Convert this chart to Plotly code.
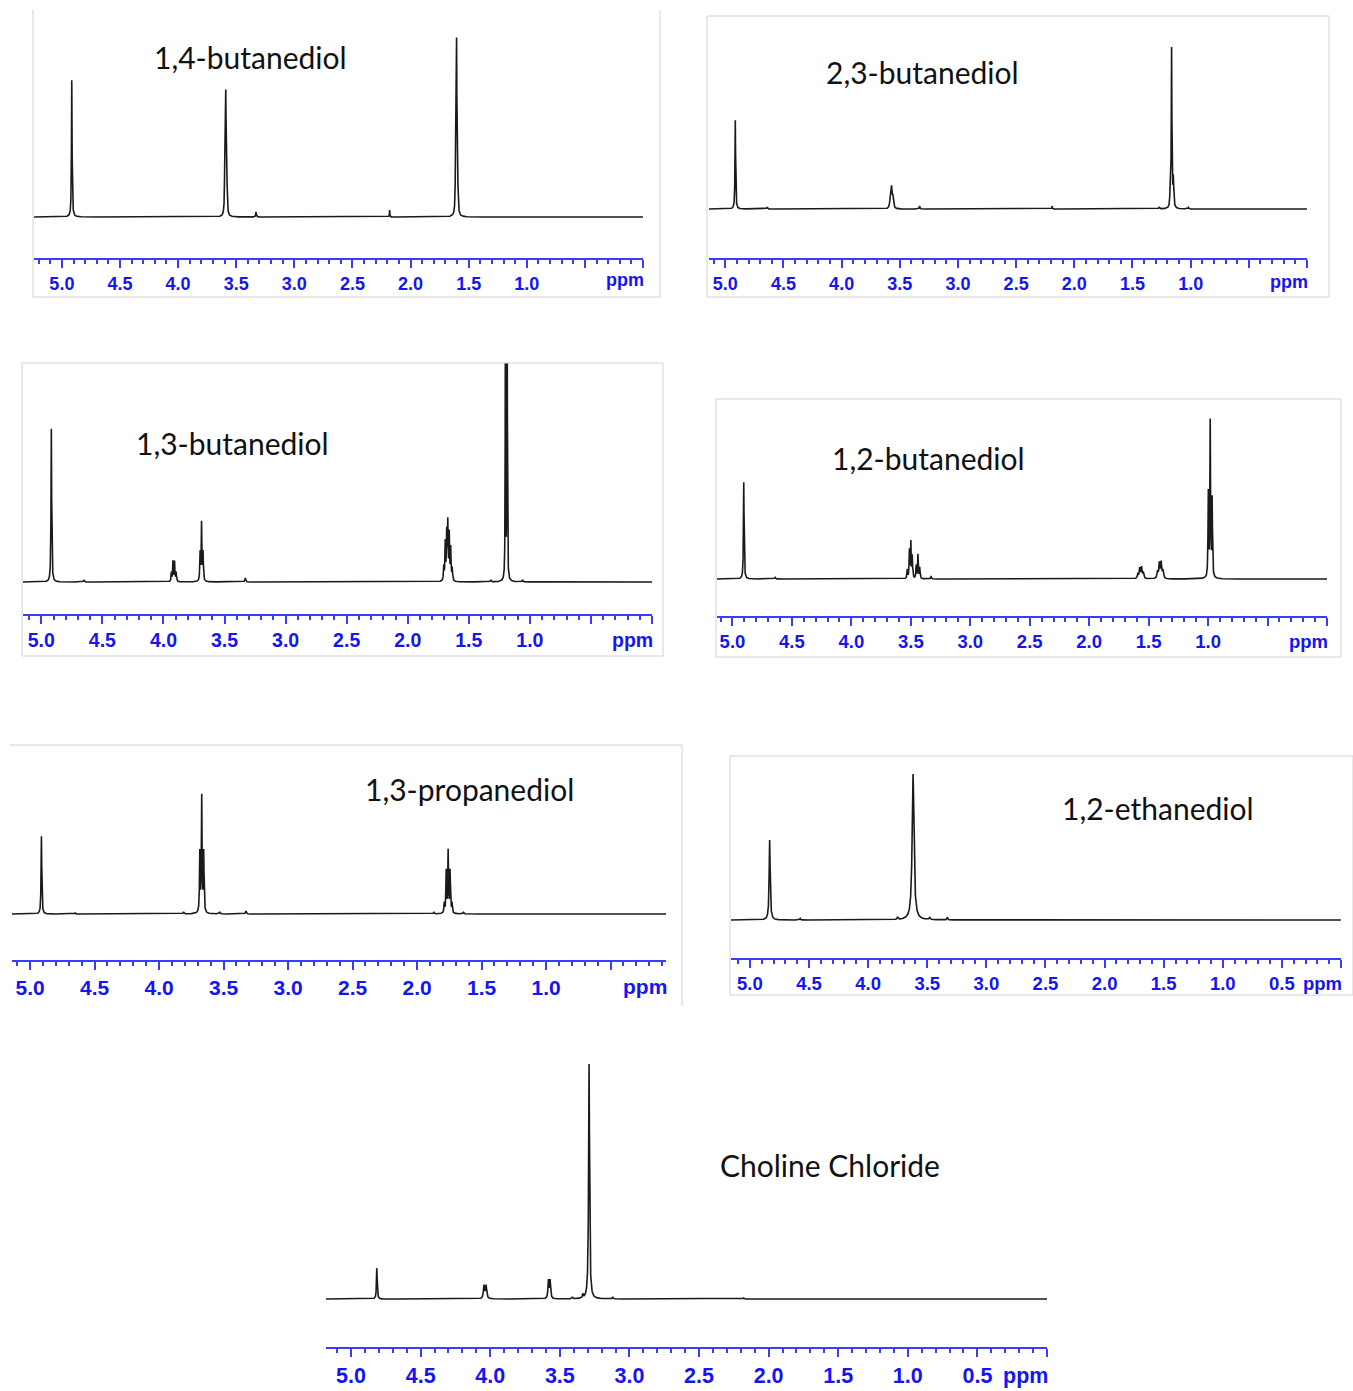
import numpy as np
import plotly.graph_objects as go

W, H = 1353, 1391

# ---------------- data ----------------
tick_vals = [5.0, 4.5, 4.0, 3.5, 3.0, 2.5, 2.0, 1.5, 1.0, 0.5, 0.0]
tick_text_a = ["5.0", "4.5", "4.0", "3.5", "3.0", "2.5", "2.0", "1.5", "1.0", "", ""]
tick_text_b = ["5.0", "4.5", "4.0", "3.5", "3.0", "2.5", "2.0", "1.5", "1.0", "0.5", ""]

titles = ["1,4-butanediol", "2,3-butanediol", "1,3-butanediol", "1,2-butanediol",
          "1,3-propanediol", "1,2-ethanediol", "Choline Chloride"]

# peak lists: chemical shift (ppm), intensity (a.u.), half width (ppm)
bd14_ppm = [4.915, 3.598, 3.590, 3.582, 3.330, 2.180, 1.612, 1.604, 1.596]
bd14_int = [137, 52, 115, 52, 5, 7, 65, 165, 52]
bd14_hw = [0.003, 0.003, 0.003, 0.003, 0.003, 0.002, 0.003, 0.003, 0.003]

bd23_ppm = [4.914, 4.640, 3.582, 3.571, 3.560, 3.330, 2.190, 1.270, 1.178, 1.164, 1.149, 1.020]
bd23_int = [89, 2, 11, 20, 11, 3, 3, 2, 10, 160, 28, 1.5]
bd23_hw = [0.003, 0.004, 0.005, 0.005, 0.005, 0.003, 0.002, 0.004, 0.003, 0.003, 0.004, 0.004]

bd13_ppm = [4.918, 4.650, 3.935, 3.922, 3.909, 3.896, 3.700, 3.688, 3.676, 3.330,
            1.705, 1.693, 1.681, 1.672, 1.660, 1.648, 1.636, 1.320, 1.200, 1.186, 1.060]
bd13_int = [154, 2, 9, 20, 20, 9, 28, 58, 28, 4,
            14, 38, 46, 56, 46, 32, 12, 2, 300, 300, 2]
bd13_hw = [0.003, 0.004, 0.003, 0.003, 0.003, 0.003, 0.003, 0.003, 0.003, 0.004,
           0.003, 0.003, 0.003, 0.003, 0.003, 0.003, 0.003, 0.004, 0.002, 0.002, 0.004]

bd12_ppm = [4.905, 4.640, 3.530, 3.512, 3.500, 3.488, 3.455, 3.440, 3.425, 3.330,
            1.590, 1.575, 1.560, 1.545, 1.425, 1.410, 1.395, 1.380, 0.998, 0.982, 0.966]
bd12_int = [97, 1.5, 9, 28, 36, 22, 13, 24, 11, 3,
            5, 10, 11, 6, 7, 15, 16, 8, 84, 155, 78]
bd12_hw = [0.003, 0.004, 0.003, 0.003, 0.003, 0.003, 0.003, 0.003, 0.003, 0.003,
           0.005, 0.005, 0.005, 0.005, 0.005, 0.005, 0.005, 0.005, 0.003, 0.003, 0.003]

pd13_ppm = [4.912, 4.650, 3.810, 3.684, 3.669, 3.654, 3.530, 3.326,
            1.870, 1.789, 1.774, 1.759, 1.744, 1.729, 1.640]
pd13_int = [78, 1, 2, 60, 116, 60, 2, 3,
            1.5, 10, 42, 62, 42, 10, 1.5]
pd13_hw = [0.003, 0.004, 0.004, 0.003, 0.003, 0.003, 0.004, 0.004,
           0.004, 0.003, 0.003, 0.003, 0.003, 0.003, 0.004]

ed12_ppm = [4.833, 4.575, 3.750, 3.620, 3.480, 3.330]
ed12_int = [80, 1.5, 2.5, 146, 2, 2.5]
ed12_hw = [0.005, 0.004, 0.005, 0.009, 0.005, 0.004]

chcl_ppm = [4.815, 4.045, 4.030, 3.582, 3.570, 3.410, 3.335, 3.290, 3.120, 2.180]
chcl_int = [31, 13, 13, 18, 18, 2, 4, 235, 2, 1]
chcl_hw = [0.003, 0.005, 0.005, 0.004, 0.004, 0.003, 0.003, 0.004, 0.003, 0.003]

peak_sets = [
    (bd14_ppm, bd14_int, bd14_hw),
    (bd23_ppm, bd23_int, bd23_hw),
    (bd13_ppm, bd13_int, bd13_hw),
    (bd12_ppm, bd12_int, bd12_hw),
    (pd13_ppm, pd13_int, pd13_hw),
    (ed12_ppm, ed12_int, ed12_hw),
    (chcl_ppm, chcl_int, chcl_hw),
]

# ---------------- layout of panels (pixel geometry) ----------------
geom = [
    dict(xl=34, xr=643, rng=(5.24, 0.0), top=10, base=217, axis=258, fs=18, lab=280, tt=tick_text_a, tx=250, ty=57),
    dict(xl=709, xr=1307, rng=(5.14, 0.0), top=16, base=209, axis=258, fs=18, lab=282, tt=tick_text_a, tx=923, ty=72),
    dict(xl=23, xr=652, rng=(5.15, 0.0), top=363, base=582, axis=614, fs=19.5, lab=640, tt=tick_text_a, tx=232, ty=443),
    dict(xl=717, xr=1327, rng=(5.13, 0.0), top=400, base=579, axis=616, fs=18.5, lab=641, tt=tick_text_a, tx=928, ty=458),
    dict(xl=12, xr=666, rng=(5.14, 0.07), top=746, base=914, axis=960, fs=21, lab=987, tt=tick_text_a, tx=470, ty=789),
    dict(xl=731, xr=1341, rng=(5.16, 0.0), top=757, base=920, axis=958, fs=18.5, lab=983, tt=tick_text_b, tx=1158, ty=808),
    dict(xl=326, xr=1047, rng=(5.18, 0.0), top=1060, base=1299, axis=1347, fs=21.5, lab=1376, tt=tick_text_b, tx=830, ty=1165),
]

BLUE_LINE = "#3b3bff"
BLUE_TXT = "#1414f5"

fig = go.Figure()


def px_x(x):
    return x / W


def px_y(y):
    return 1 - y / H


annotations = []
for i, ((ppm, inten, hw), g, title) in enumerate(zip(peak_sets, geom, titles), start=1):
    x = np.linspace(g["rng"][0], g["rng"][1], 12000)
    y = np.zeros_like(x)
    for p, a, w in zip(ppm, inten, hw):
        y += a * w ** 2 / ((x - p) ** 2 + w ** 2)
    xa = "x" if i == 1 else f"x{i}"
    ya = "y" if i == 1 else f"y{i}"
    fig.add_trace(go.Scatter(x=x, y=y, mode="lines", xaxis=xa, yaxis=ya,
                             line=dict(color="#1a1a1a", width=1.6), hoverinfo="skip",
                             showlegend=False))
    sfx = "" if i == 1 else str(i)
    fig.update_layout(**{
        f"xaxis{sfx}": dict(
            domain=[px_x(g["xl"]), px_x(g["xr"])], anchor=ya,
            range=list(g["rng"]), showgrid=False, zeroline=False,
            showline=True, linecolor=BLUE_LINE, linewidth=2,
            tickmode="array", tickvals=tick_vals, ticktext=g["tt"],
            ticks="outside", ticklen=8, tickwidth=2, tickcolor=BLUE_LINE,
            tickfont=dict(family="Liberation Sans", size=g["fs"], color=BLUE_TXT, weight="bold"),
            minor=dict(tickmode="linear", tick0=0, dtick=0.1, ticks="outside", ticklen=4,
                       tickwidth=1.5, tickcolor=BLUE_LINE, showgrid=False),
            fixedrange=True,
        ),
        f"yaxis{sfx}": dict(
            domain=[px_y(g["axis"]), px_y(g["top"])], anchor=xa,
            range=[-(g["axis"] - g["base"]), g["base"] - g["top"]],
            visible=False, fixedrange=True,
        ),
    })
    annotations.append(dict(
        x=g["rng"][1], xref=xa, xanchor="right", xshift=3,
        y=px_y(g["lab"]), yref="paper", yanchor="middle",
        text="<b>ppm</b>", showarrow=False,
        font=dict(family="Liberation Sans", size=g["fs"], color=BLUE_TXT),
    ))
    annotations.append(dict(
        x=px_x(g["tx"]), xref="paper", xanchor="center",
        y=px_y(g["ty"]), yref="paper", yanchor="middle",
        text=title, showarrow=False,
        font=dict(family="Lato", size=30, color="#111111"),
    ))

# light grey frames around panels
FR = "#d2d2d2"
shapes = []


def line(x0, y0, x1, y1):
    shapes.append(dict(type="line", xref="paper", yref="paper",
                       x0=px_x(x0), y0=px_y(y0), x1=px_x(x1), y1=px_y(y1),
                       line=dict(color=FR, width=1)))


def rect(x0, y0, x1, y1):
    shapes.append(dict(type="rect", xref="paper", yref="paper",
                       x0=px_x(x0), y0=px_y(y0), x1=px_x(x1), y1=px_y(y1),
                       line=dict(color=FR, width=1)))


line(33, 10, 33, 297)
line(660, 10, 660, 297)
line(33, 297, 660, 297)
rect(707, 16, 1329, 297)
rect(22, 363, 663, 656)
rect(716, 399, 1341, 657)
line(10, 745, 682, 745)
line(682, 745, 682, 1006)
rect(730, 756, 1353, 995)

fig.update_layout(
    width=W, height=H, margin=dict(l=0, r=0, t=0, b=0),
    paper_bgcolor="white", plot_bgcolor="rgba(0,0,0,0)",
    annotations=annotations, shapes=shapes, showlegend=False,
)

fig.write_html("out.html", config={"displayModeBar": False},
               post_script="document.body.style.margin='0px';document.body.style.padding='0px';")
